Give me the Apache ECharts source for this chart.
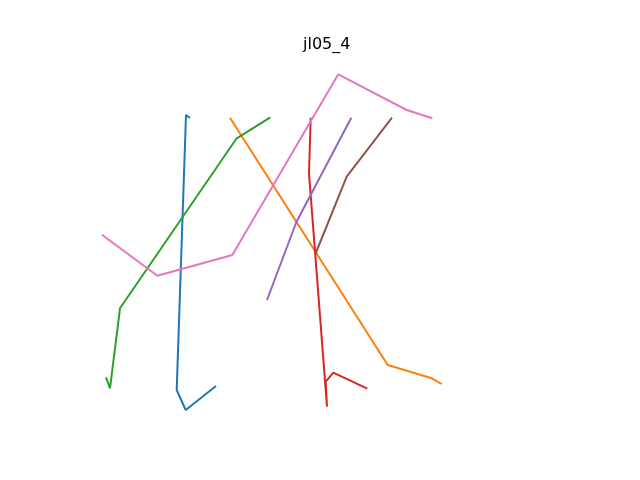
<!DOCTYPE html>
<html>
<head>
    <meta charset="utf-8">
    <title>jl05_4</title>
    <script src="https://cdn.jsdelivr.net/npm/echarts@6/dist/echarts.min.js"></script>
</head>
<body style="margin:0">
<div id="main" style="width: 640px; height:480px;"></div>
<script type="text/javascript">
    // strokes, each a list of [x, y] points (y grows downwards)
    var stroke0 = [[216, 386], [185.7, 410], [176.7, 390], [186, 115], [190, 118]];
    var stroke1 = [[230, 117.7], [387.7, 365], [431.7, 378.3], [441.7, 384]];
    var stroke2 = [[270.3, 117.3], [236.7, 138.3], [120, 308.3], [110, 388.3], [106, 377.3]];
    var stroke3 = [[310.7, 117.7], [309, 173.3], [327, 406.7], [325.7, 381.7], [333.3, 372.7], [367.3, 388.7]];
    var stroke4 = [[351.3, 117.7], [296.4, 222], [267, 300]];
    var stroke5 = [[392, 117.7], [346.7, 176.7], [315, 255]];
    var stroke6 = [[102, 234.7], [157.3, 275.7], [232.3, 255], [338.3, 74.3], [406.7, 110], [432.3, 118.3]];

    var strokes = [stroke0, stroke1, stroke2, stroke3, stroke4, stroke5, stroke6];
    var colors = ['#1f77b4', '#ff7f0e', '#2ca02c', '#d62728', '#9467bd', '#8c564b', '#e377c2'];

    var myChart = echarts.init(document.getElementById('main'));

    var series = strokes.map(function (s, i) {
        return {
            type: 'line',
            data: s,
            showSymbol: false,
            lineStyle: {color: colors[i], width: 2},
            itemStyle: {color: colors[i]}
        };
    });

    option = {
        backgroundColor: '#ffffff',
        animation: false,
        title: {
            text: 'jl05_4',
            left: 298,
            top: 32,
            textStyle: {
                fontFamily: 'DejaVu Sans',
                fontWeight: 'normal',
                fontSize: 16,
                color: '#000'
            }
        },
        grid: {left: 80, right: 64, top: 57.6, bottom: 52.8},
        xAxis: {type: 'value', min: 80, max: 576, show: false},
        yAxis: {type: 'value', min: 57.6, max: 427.2, inverse: true, show: false},
        series: series
    };

    myChart.setOption(option);
</script>
</body>
</html>
